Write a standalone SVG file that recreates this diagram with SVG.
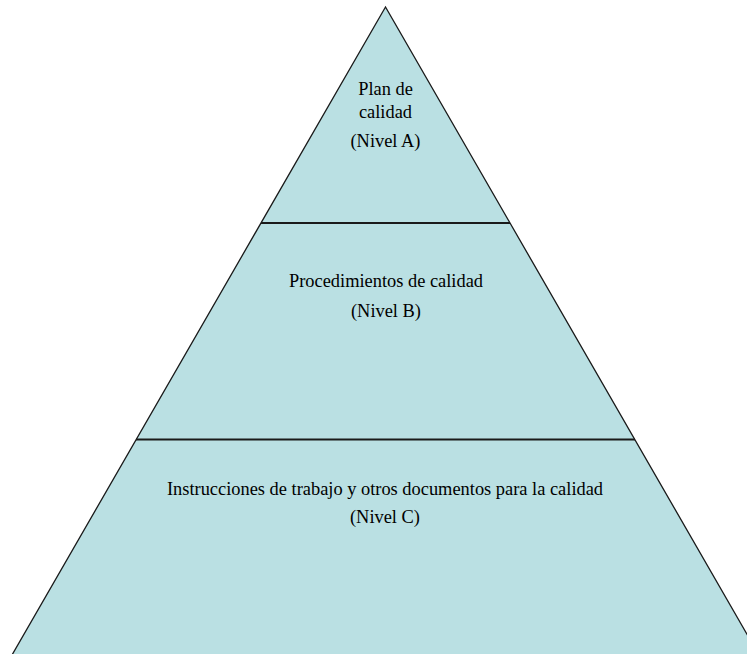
<svg xmlns="http://www.w3.org/2000/svg" width="747" height="654" viewBox="0 0 747 654">
<style>
.t{font-family:"Liberation Serif","Times New Roman",serif;font-size:18.4px;fill:#000;text-anchor:middle}
.div{stroke:#1a1a1a;stroke-width:2.2;fill:none}
</style>
<rect width="747" height="654" fill="#fff"/>
<g id="pyramid">
<polygon points="385.5,7 12,655 759,655" fill="#bae0e3" stroke="#1a1a1a" stroke-width="1.3"/>
</g>
<g id="connectors">
<line class="div" x1="261" y1="223" x2="510" y2="223"/>
<line class="div" x1="136" y1="439.5" x2="635" y2="439.5"/>
</g>
<g id="nivelA">
<text class="t" x="385.5" y="95">Plan de</text>
<text class="t" x="385.5" y="118">calidad</text>
<text class="t" x="385.5" y="147">(Nivel A)</text>
</g>
<g id="nivelB">
<text class="t" x="386" y="287">Procedimientos de calidad</text>
<text class="t" x="386" y="317">(Nivel B)</text>
</g>
<g id="nivelC">
<text class="t" x="385" y="495">Instrucciones de trabajo y otros documentos para la calidad</text>
<text class="t" x="385" y="523">(Nivel C)</text>
</g>
</svg>
